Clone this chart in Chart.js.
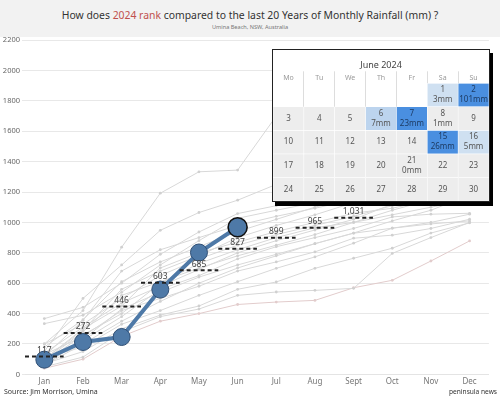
<!DOCTYPE html>
<html>
<head>
<meta charset="utf-8">
<script src="https://cdn.jsdelivr.net/npm/chart.js@4.4.1/dist/chart.umd.min.js"></script>
<style>
  html, body { margin: 0; padding: 0; background: #fff; }
  #wrap { position: relative; width: 500px; height: 399px; overflow: hidden; font-family: 'Noto Sans', sans-serif; }
  #head { position: absolute; left: 0; top: 0; width: 500px; height: 37px; background: #f2f2f2; text-align: center; }
  #title { position: absolute; left: 0; right: 0; top: 8px; font-size: 10.4px; color: #333; }
  #title span { color: #c0504d; }
  #sub { position: absolute; left: 0; right: 0; top: 23px; font-size: 5.6px; color: #777; }
  #mainBox { position: absolute; left: 0; top: 28px; }
  #calBox { position: absolute; left: 272px; top: 49px; width: 216px; height: 151px; background: #fff;
            border: 1px solid #222; box-shadow: 3px 4px 0 #000; }
  #src { position: absolute; left: 4px; top: 387px; font-size: 7px; color: #333; }
  #brand { position: absolute; right: 3px; top: 387px; font-size: 6.6px; color: #333; }
</style>
</head>
<body>
<div id="wrap">
  <div id="head">
    <div id="title">How does <span>2024 rank</span> compared to the last 20 Years of Monthly Rainfall (mm) ?</div>
    <div id="sub">Umina Beach, NSW, Australia</div>
  </div>
  <div id="mainBox"><canvas id="chartMain" width="500" height="363"></canvas></div>
  <div id="calBox"><canvas id="chartCal" width="216" height="151"></canvas></div>
  <div id="src">Source: Jim Morrison, Umina</div>
  <div id="brand">peninsula news</div>
</div>
<script>
// cumulative rainfall (mm), month by month
const months = ['Jan', 'Feb', 'Mar', 'Apr', 'May', 'Jun', 'Jul', 'Aug', 'Sept', 'Oct', 'Nov', 'Dec'];
const rain2024 = [97, 213, 246, 558, 802, 968];
const avgRain = [117, 272, 446, 603, 685, 827, 899, 965, 1031, 1127, 1220, 1313];

// previous 20 years
const yr2004 = [200, 420, 837, 1192, 1333, 1344, 1700, 1820, 1900, 1980, 2050, 2120];
const yr2005 = [150, 500, 720, 948, 1065, 1146, 1250, 1320, 1380, 1450, 1520, 1600];
const yr2006 = [367, 441, 600, 790, 937, 1058, 1110, 1180, 1250, 1320, 1390, 1450];
const yr2007 = [334, 389, 540, 720, 880, 1027, 1080, 1130, 1180, 1240, 1300, 1360];
const yr2008 = [120, 356, 680, 820, 900, 980, 1040, 1093, 1150, 1200, 1250, 1300];
const yr2009 = [100, 300, 450, 700, 800, 870, 940, 1000, 1060, 1093, 1150, 1220];
const yr2010 = [80, 260, 400, 600, 730, 820, 900, 965, 1000, 1050, 1100, 1150];
const yr2011 = [90, 224, 380, 560, 650, 760, 840, 900, 960, 1036, 1054, 1060];
const yr2012 = [60, 200, 350, 480, 600, 700, 780, 860, 929, 962, 1000, 1054];
const yr2013 = [130, 250, 420, 500, 580, 680, 740, 806, 896, 916, 960, 1021];
const yr2014 = [110, 180, 330, 420, 520, 610, 698, 773, 863, 962, 990, 1010];
const yr2015 = [70, 150, 300, 390, 450, 560, 608, 698, 764, 830, 930, 997];
const yr2016 = [50, 114, 280, 380, 430, 520, 542, 553, 566, 796, 900, 1000];
const yr2017 = [40, 100, 250, 350, 400, 460, 476, 487, 570, 619, 746, 878];
const yr2018 = [200, 330, 500, 650, 760, 850, 920, 980, 1040, 1110, 1180, 1250];
const yr2019 = [90, 280, 520, 610, 700, 780, 850, 920, 1000, 1080, 1150, 1230];
const yr2020 = [140, 310, 470, 580, 690, 800, 880, 950, 1020, 1120, 1210, 1300];
const yr2021 = [60, 230, 430, 540, 640, 720, 790, 860, 930, 1010, 1080, 1180];
const yr2022 = [100, 290, 560, 680, 780, 900, 980, 1050, 1130, 1220, 1300, 1400];
const yr2023 = [180, 360, 610, 740, 840, 940, 1020, 1100, 1170, 1260, 1340, 1420];
const pastYears = [yr2004, yr2005, yr2006, yr2007, yr2008, yr2009, yr2010, yr2011, yr2012, yr2013,
                   yr2014, yr2015, yr2016, yr2017, yr2018, yr2019, yr2020, yr2021, yr2022, yr2023];

// June 2024 calendar
const calWeekdays = ['Mo', 'Tu', 'We', 'Th', 'Fr', 'Sa', 'Su'];
const calDays = [1, 2, 3, 4, 5, 6, 7, 8, 9, 10, 11, 12, 13, 14, 15, 16, 17, 18, 19, 20,
                 21, 22, 23, 24, 25, 26, 27, 28, 29, 30];
const firstWeekday = 5; // 1 June 2024 is a Saturday
const rainDays = [1, 2, 6, 7, 8, 15, 16, 21];
const rainMm = [3, 101, 7, 23, 1, 26, 5, 0];

const blue = '#4e79a7';

// ---------- main chart ----------
const pts = arr => arr.map((v, i) => ({ x: i, y: v }));

const dashData = [];
avgRain.forEach((v, i) => {
    dashData.push({ x: i - 0.5, y: v }, { x: i + 0.5, y: v }, { x: i + 0.5, y: null });
});

const greyDatasets = pastYears.map((arr, k) => ({
    data: pts(arr),
    borderColor: k === 13 ? '#e2cccc' : '#d8d8d8',
    backgroundColor: k === 13 ? '#e2cccc' : '#d0d0d0',
    borderWidth: 1,
    pointRadius: 1.4,
    pointBorderWidth: 0,
    order: 3
}));

const avgLabels = {
    id: 'avgLabels',
    afterDatasetsDraw(chart) {
        const ctx = chart.ctx, xs = chart.scales.x, ys = chart.scales.y;
        ctx.save();
        ctx.font = '8.5px "Noto Sans", sans-serif';
        ctx.fillStyle = '#444';
        ctx.textAlign = 'center';
        ctx.textBaseline = 'middle';
        avgRain.forEach((v, i) => {
            ctx.fillText(v.toLocaleString('en-US'), xs.getPixelForValue(i), ys.getPixelForValue(v) - 6);
        });
        ctx.restore();
    }
};

new Chart(document.getElementById('chartMain'), {
    type: 'line',
    data: {
        datasets: [
            {
                data: dashData,
                borderColor: '#222',
                borderWidth: 2,
                borderDash: [4, 3],
                pointRadius: 0,
                spanGaps: false,
                order: 1
            },
            {
                data: pts(rain2024),
                borderColor: blue,
                borderWidth: 4,
                backgroundColor: blue,
                pointRadius: rain2024.map((v, i) => i === 5 ? 9.5 : 8.5),
                pointBorderColor: rain2024.map((v, i) => i === 5 ? '#111' : '#2f4f75'),
                pointBorderWidth: rain2024.map((v, i) => i === 5 ? 1.6 : 1),
                order: 2
            },
            ...greyDatasets
        ]
    },
    options: {
        responsive: false,
        animation: false,
        layout: { padding: { top: 12, right: 3, left: 0, bottom: 0 } },
        plugins: { legend: { display: false }, tooltip: { enabled: false } },
        elements: { line: { tension: 0 } },
        scales: {
            x: {
                type: 'linear',
                min: -0.5,
                max: 11.5,
                grid: { display: false, drawTicks: false },
                border: { color: '#e4e4e4' },
                afterBuildTicks: s => { s.ticks = months.map((m, i) => ({ value: i })); },
                ticks: {
                    callback: v => months[v],
                    color: '#777',
                    font: { size: 8, family: 'Noto Sans' },
                    padding: 3,
                    maxRotation: 0,
                    autoSkip: false
                },
                afterFit: s => { s.height = 16.6; }
            },
            y: {
                min: 0,
                max: 2200,
                ticks: {
                    stepSize: 200,
                    callback: v => String(v),
                    color: '#666',
                    font: { size: 7.5, family: 'Noto Sans' },
                    padding: 2
                },
                grid: { color: '#e8e8e8', tickLength: 3 },
                border: { display: false },
                afterFit: s => { s.width = 25; }
            }
        }
    },
    plugins: [avgLabels]
});

// ---------- calendar inset ----------
const cellColor = mm => {
    if (mm === undefined) return '#ededed';
    if (mm >= 20) return '#4a8fe0';
    if (mm >= 6) return '#bcd4ee';
    if (mm >= 3) return '#cfe0f1';
    return '#ededed';
};

const calCells = calDays.map(d => {
    const idx = d - 1 + firstWeekday;
    const row = Math.floor(idx / 7);
    return { x: calWeekdays[idx % 7], y: [row, row + 1] };
});
const calColors = calDays.map(d => cellColor(rainMm[rainDays.indexOf(d)]));

const calText = {
    id: 'calText',
    afterDatasetsDraw(chart) {
        const ctx = chart.ctx;
        const meta = chart.getDatasetMeta(0);
        ctx.save();
        ctx.font = '8px "Noto Sans", sans-serif';
        ctx.textAlign = 'center';
        ctx.textBaseline = 'middle';
        meta.data.forEach((bar, k) => {
            const c = bar.getCenterPoint();
            const d = calDays[k];
            const r = rainDays.indexOf(d);
            ctx.fillStyle = rainMm[r] >= 20 ? '#1d3b63' : '#555';
            if (r >= 0) {
                ctx.fillText(String(d), c.x, c.y - 5);
                ctx.fillText(rainMm[r] + 'mm', c.x, c.y + 5);
            } else {
                ctx.fillText(String(d), c.x, c.y);
            }
        });
        ctx.restore();
    }
};

new Chart(document.getElementById('chartCal'), {
    type: 'bar',
    data: {
        labels: calWeekdays,
        datasets: [{
            data: calCells,
            backgroundColor: calColors,
            borderColor: '#ffffff',
            borderWidth: 0.6,
            borderSkipped: false,
            barPercentage: 1,
            categoryPercentage: 1
        }]
    },
    options: {
        responsive: false,
        animation: false,
        layout: { padding: 0 },
        plugins: {
            legend: { display: false },
            tooltip: { enabled: false },
            title: {
                display: true,
                text: 'June 2024',
                color: '#444',
                font: { size: 9, weight: 'normal', family: 'Noto Sans' },
                padding: { top: 10.5, bottom: 0 }
            }
        },
        scales: {
            x: {
                position: 'top',
                grid: { offset: true, color: '#dddddd', tickLength: 12 },
                border: { display: false },
                ticks: { color: '#9a9a9a', font: { size: 7, family: 'Noto Sans' }, padding: -11 },
                afterFit: s => { s.height = 12; }
            },
            y: {
                display: false,
                reverse: true,
                min: 0,
                max: 5
            }
        }
    },
    plugins: [calText]
});
</script>
</body>
</html>
